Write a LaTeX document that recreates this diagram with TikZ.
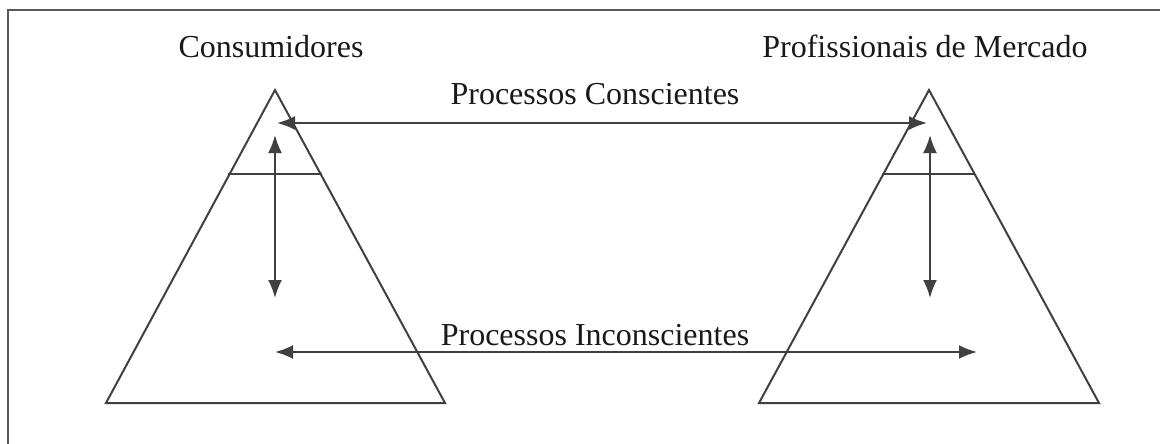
\documentclass[tikz,border=0pt]{standalone}
\usepackage{fontspec}
\setmainfont{Liberation Serif}
\usetikzlibrary{arrows.meta}
\tikzset{
  txt/.style={anchor=base,inner sep=0pt,font=\fontsize{32}{38}\selectfont,text=black!90},
  edge/.style={line width=2pt,draw=black!75},
  link/.style={edge,>={Latex[length=18pt,width=14pt]},<->}
}
\begin{document}
\begin{tikzpicture}[x=1pt,y=-1pt]
\useasboundingbox (0,0) rectangle (1160,444);
\draw[line width=2.4pt,draw=black!65] (8,444) -- (8,10) -- (1160,10);
% titles
\node[txt] (cons) at (271,58) {Consumidores};
\node[txt] (prof) at (925,58) {Profissionais de Mercado};
\node[txt] (conc) at (595,105) {Processos Conscientes};
\node[txt] (inco) at (595,345) {Processos Inconscientes};
% pyramids
\coordinate (ltop) at (275,90);
\coordinate (lbl) at (106,403);
\coordinate (lbr) at (445,403);
\coordinate (rtop) at (929,90);
\coordinate (rbl) at (759,403);
\coordinate (rbr) at (1099,403);
\draw[edge,line join=miter] (ltop) -- (lbl) -- (lbr) -- cycle;
\draw[edge,line join=miter] (rtop) -- (rbl) -- (rbr) -- cycle;
\draw[edge] (228,174) -- (322,174);
\draw[edge] (882,174) -- (975,174);
% arrows
\coordinate (la) at (277,123);
\coordinate (ra) at (927,123);
\coordinate (lu) at (275,135);
\coordinate (ld) at (275,298);
\coordinate (ru) at (930,135);
\coordinate (rd) at (930,298);
\coordinate (lb) at (275,352);
\coordinate (rb) at (977,352);
\draw[link] (la) -- (ra);
\draw[link] (lu) -- (ld);
\draw[link] (ru) -- (rd);
\draw[link] (lb) -- (rb);
\end{tikzpicture}
\end{document}
